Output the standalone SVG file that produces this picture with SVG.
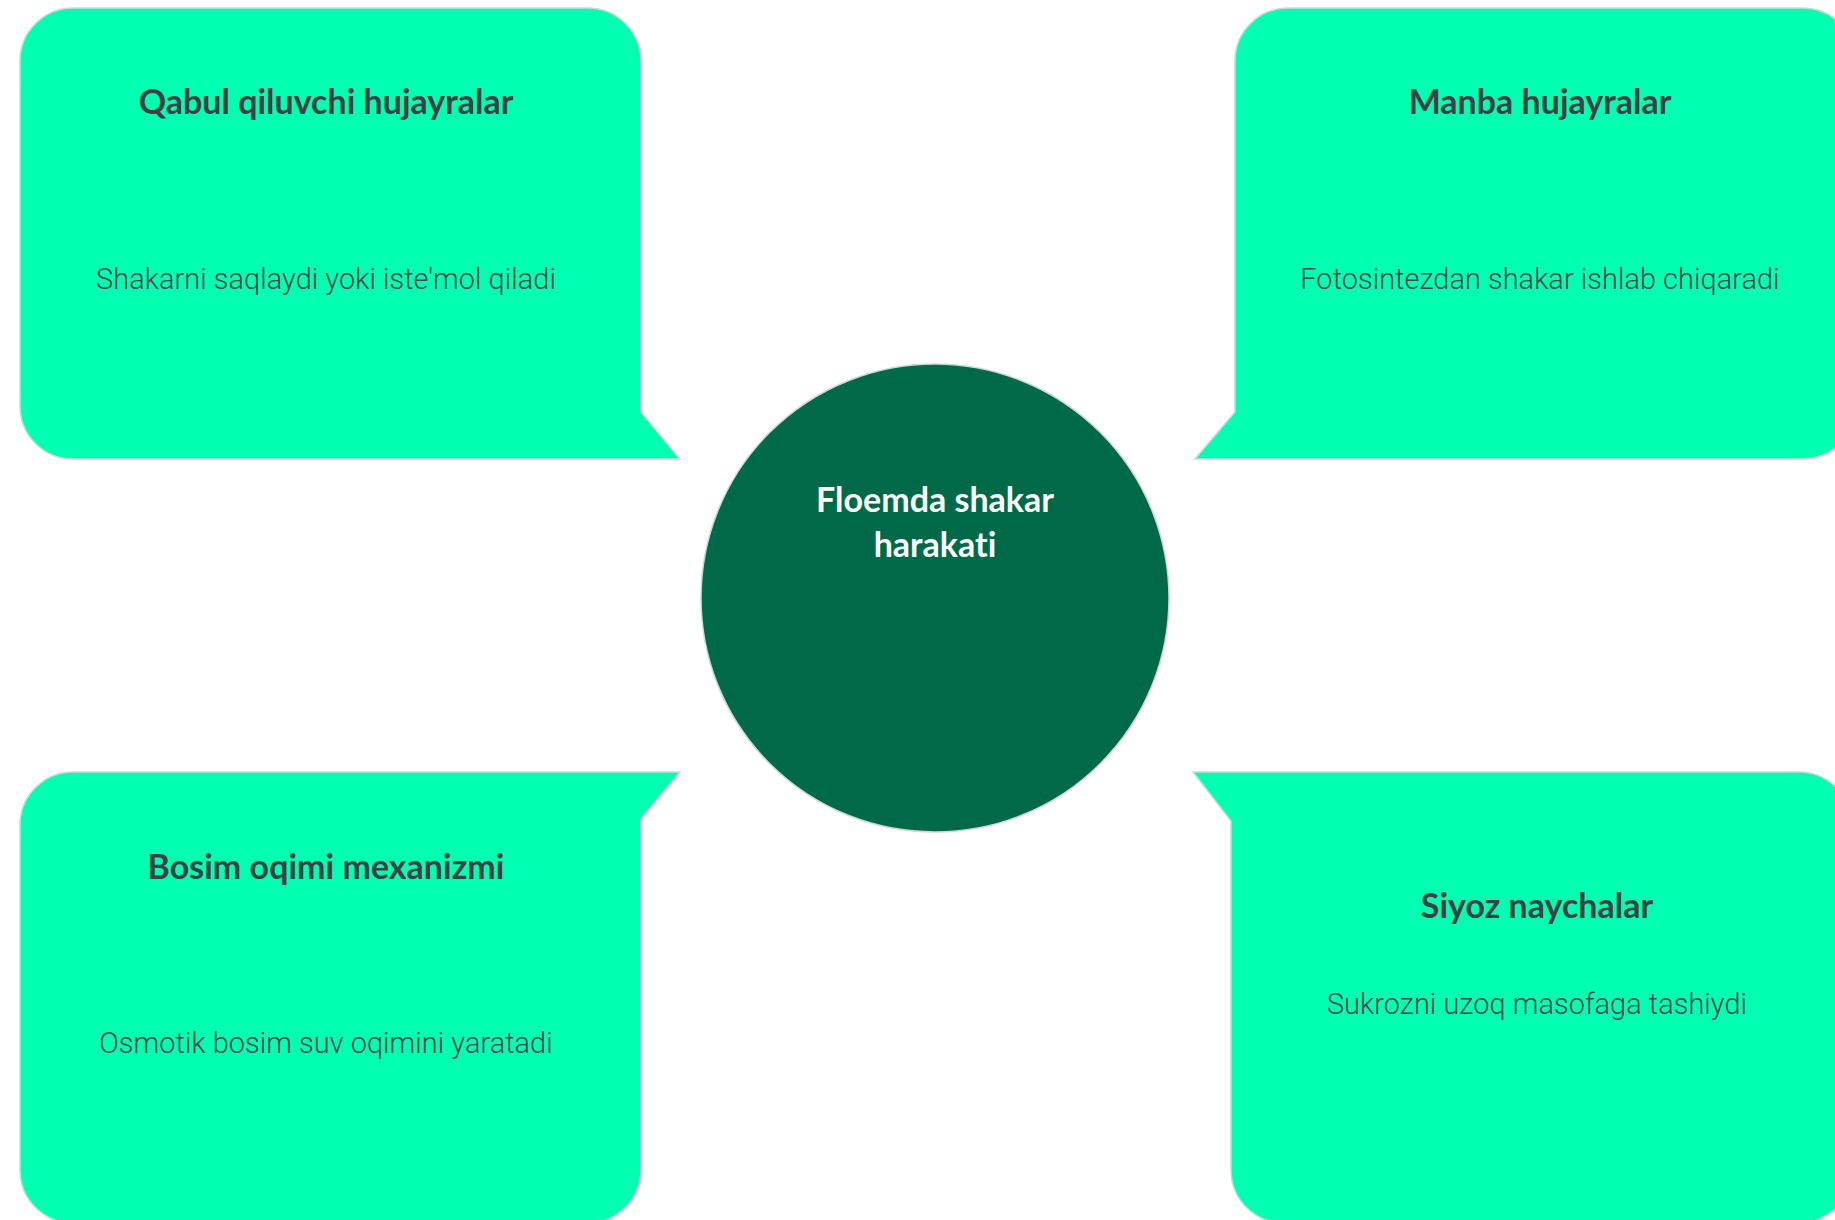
<svg xmlns="http://www.w3.org/2000/svg" width="1835" height="1220" viewBox="0 0 1835 1220">
<style>
.box{fill:#00FFB0;stroke:#cfd8d3;stroke-width:1.5}
.hub{fill:#006A48;stroke:#cfd8d3;stroke-width:1.5}
text{font-variant-ligatures:none}
.title{font-family:Lato,"Liberation Sans",sans-serif;font-weight:bold;font-size:34px;fill:#3F3F44;text-anchor:middle}
.desc{font-family:Roboto,"Liberation Sans",sans-serif;font-weight:300;font-size:29px;fill:#45454a;text-anchor:middle}
.hubt{font-family:Lato,"Liberation Sans",sans-serif;font-weight:bold;font-size:34px;fill:#ffffff;text-anchor:middle}
</style>
<rect width="1835" height="1220" fill="#ffffff"/>
<g id="connectors"></g>
<g id="node-qabul">
<path class="box" d="M 73 8 H 588 A 53 53 0 0 1 641 61 V 412 L 680 459 H 73 A 53 53 0 0 1 20 406 V 61 A 53 53 0 0 1 73 8 Z"/>
<text class="title" x="326" y="114">Qabul qiluvchi hujayralar</text>
<text class="desc" x="326" y="289">Shakarni saqlaydi yoki iste'mol qiladi</text>
</g>
<g id="node-manba">
<path class="box" d="M 1288 8 H 1803 A 53 53 0 0 1 1856 61 V 406 A 53 53 0 0 1 1803 459 H 1195 L 1235 412 V 61 A 53 53 0 0 1 1288 8 Z"/>
<text class="title" x="1540" y="114">Manba hujayralar</text>
<text class="desc" x="1540" y="289">Fotosintezdan shakar ishlab chiqaradi</text>
</g>
<g id="node-bosim">
<path class="box" d="M 73 772 H 680 L 641 819 V 1170 A 53 53 0 0 1 588 1223 H 73 A 53 53 0 0 1 20 1170 V 825 A 53 53 0 0 1 73 772 Z"/>
<text class="title" x="326" y="879">Bosim oqimi mexanizmi</text>
<text class="desc" x="326" y="1053">Osmotik bosim suv oqimini yaratadi</text>
</g>
<g id="node-siyoz">
<path class="box" d="M 1193 772 H 1799 A 53 53 0 0 1 1852 825 V 1170 A 53 53 0 0 1 1799 1223 H 1284 A 53 53 0 0 1 1231 1170 V 821 Z"/>
<text class="title" x="1537" y="918">Siyoz naychalar</text>
<text class="desc" x="1537" y="1014">Sukrozni uzoq masofaga tashiydi</text>
</g>
<g id="node-hub">
<circle class="hub" cx="935" cy="598" r="234"/>
<text class="hubt" x="935" y="512">Floemda shakar</text>
<text class="hubt" x="935" y="557">harakati</text>
</g>
</svg>
